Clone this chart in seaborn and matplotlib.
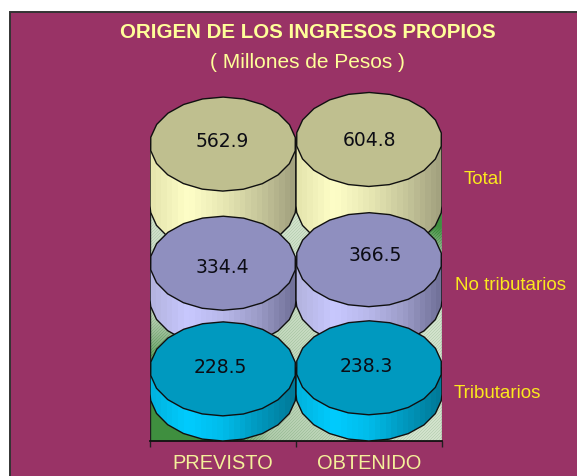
import numpy as np
import pandas as pd
import matplotlib
matplotlib.use("Agg")
import matplotlib.pyplot as plt
from matplotlib.colors import ListedColormap, LinearSegmentedColormap
from matplotlib.patches import Polygon, Rectangle
import seaborn as sns

# Data
periodos = ["PREVISTO", "OBTENIDO"]
tributarios = [228.5, 238.3]
no_tributarios = [334.4, 366.5]
total = [562.9, 604.8]

W, H = 577, 477
PX = 0.11          # pixels per million on the value axis
RY = 47 / PX       # half height of a cylinder top
DEPTH = 94 / PX    # how far each row sits behind the one in front
FLOOR = 47 / PX    # base of the front row above the axis line

# back to front: name, values, base, side colours, top colour, label nudges in px
filas = [
    ("Total", total, FLOOR + 2 * DEPTH,
     ["#e6e6ae", "#ffffc8", "#e8e8b4", "#c8c89c", "#a3a27f"], "#bfbf8f", [(-1, -4), (0, 0)]),
    ("No tributarios", no_tributarios, FLOOR + DEPTH,
     ["#b4b4e0", "#c8c8ff", "#b8b8ea", "#9c9cc8", "#72729a"], "#8f8fbf", [(-1, 3), (6, -5)]),
    ("Tributarios", tributarios, FLOOR,
     ["#00b4e0", "#00ccff", "#00bcea", "#0099bf", "#007a99"], "#0099bf", [(-3, -2), (-3, -2)]),
]

sns.set_theme(style="white")
plt.rcParams["font.family"] = ["Liberation Sans", "DejaVu Sans"]

fig = plt.figure(figsize=(W / 100, H / 100), dpi=100, facecolor="white")
fig.add_artist(Rectangle((9.5 / W, -0.1), 1, 0.1 + 1 - 12.5 / H, transform=fig.transFigure,
                         facecolor="#993366", edgecolor="#333333", linewidth=1.4, zorder=-1))

ax = fig.add_axes([150 / W, (H - 442) / H, 292 / W, 430 / H])
ax.patch.set_alpha(0)


def elipse(cx, cy, n=22, fase=0.14):
    t = np.linspace(0, 2 * np.pi, n, endpoint=False) + fase
    return np.column_stack([cx + 0.5 * np.cos(t), cy + RY * np.sin(t)])


# floor behind the cylinders, fine diagonal hatch over a green gradient
yy, xx = np.mgrid[0:232, 0:292]
oscuro = np.clip(1 - np.hypot(xx / 120, (231 - yy) / 130), 0, 1)
arriba = np.clip(1 - np.hypot((291 - xx) / 45, yy / 60), 0, 1)
medio = np.clip(1 - np.abs(xx / 292 - 0.15 - (yy / 232) * 0.1) * 1.6, 0, 1) * (yy / 232) * 0.35
t = np.clip(oscuro * 1.7 + arriba * 1.4 + medio, 0, 1)
raya = ((xx + yy) % 3 == 0) * 0.16
piso = LinearSegmentedColormap.from_list("piso", ["#d2e2cc", "#8fb58c", "#3f8f3f"])
ax.imshow(np.clip(t + raya, 0, 1), cmap=piso, vmin=0, vmax=1, aspect="auto", zorder=1,
          extent=(-0.5, 1.5, 0, 232 / PX), origin="upper", interpolation="nearest")

for i, (nombre, valores, base, lados, tapa, nudges) in enumerate(filas):
    fila = pd.DataFrame({"periodo": periodos, "valor": valores})
    n_antes = len(ax.patches)
    sns.barplot(data=fila, x="periodo", y="valor", order=periodos, color=lados[2], saturation=1,
                width=1, bottom=base, errorbar=None, linewidth=0, zorder=2 + i, ax=ax)
    barras = ax.patches[n_antes:]
    paleta = sns.blend_palette(lados, n_colors=26)
    for j, barra in enumerate(barras):
        z = 2 + i + j * 0.1
        cx = barra.get_x() + barra.get_width() / 2
        arriba_y = barra.get_y() + barra.get_height()
        fondo = barra.get_y()
        # body: straight sides plus the lower half of the base ellipse
        aro = elipse(cx, fondo)
        aro = aro[aro[:, 1] <= fondo]
        aro = aro[np.argsort(aro[:, 0])]
        cuerpo = np.vstack([[cx - 0.5, arriba_y], [cx - 0.5, fondo], aro, [cx + 0.5, fondo], [cx + 0.5, arriba_y]])
        contorno = Polygon(cuerpo, closed=True, facecolor="none", edgecolor="#101010", linewidth=1.0, zorder=z + 0.02)
        ax.add_patch(contorno)
        img = ax.imshow(np.arange(26)[None, :], cmap=ListedColormap(paleta), aspect="auto", zorder=z + 0.01,
                        extent=(cx - 0.5, cx + 0.5, fondo - RY, arriba_y), interpolation="nearest")
        img.set_clip_path(contorno)
        ax.add_patch(Polygon(elipse(cx, arriba_y), closed=True, facecolor=tapa, edgecolor="#101010",
                             linewidth=1.0, zorder=z + 0.03))
        dx, dy = nudges[j]
        ax.annotate(f"{valores[j]:.1f}", (cx, arriba_y), xytext=(dx * 0.72, -dy * 0.72), textcoords="offset points",
                    ha="center", va="center", fontsize=13.5, color="#0c0c14", family="DejaVu Sans", zorder=20)

ax.set_xlim(-0.5, 1.5)
ax.set_ylim(0, 430 / PX)
ax.set_xlabel("")
ax.set_ylabel("")
ax.set_yticks([])
for lado in ["top", "right", "left"]:
    ax.spines[lado].set_visible(False)
ax.spines["bottom"].set_color("#101010")
ax.spines["bottom"].set_linewidth(1.3)
ax.set_xticks([-0.5, 0.5, 1.5], minor=True)
ax.tick_params(axis="x", which="minor", length=4, width=1, color="#202020", bottom=True)
ax.tick_params(axis="x", which="major", length=0, pad=9, labelsize=14.4, labelcolor="#f4f09a")
ax.plot([-0.5, -0.5], [0, 232 / PX], color="#202020", lw=1, zorder=1.5)
ax.plot([1.5, 1.5], [0, 232 / PX], color="#777777", lw=1, zorder=1.5)

# Text
amarillo = "#ffff99"
fig.text(308 / W, 1 - 32 / H, "ORIGEN DE LOS INGRESOS PROPIOS", ha="center", va="center",
         fontsize=14.8, fontweight="bold", color=amarillo)
fig.text(307 / W, 1 - 62 / H, "( Millones de Pesos )", ha="center", va="center", fontsize=15, color=amarillo)
for nombre, x_px, y_px in [("Total", 464, 180), ("No tributarios", 455, 286), ("Tributarios", 454, 393)]:
    fig.text(x_px / W, 1 - y_px / H, nombre, ha="left", va="center", fontsize=13.5, color="#fbe81e")

fig.savefig("out.png", dpi=100, facecolor="white")
